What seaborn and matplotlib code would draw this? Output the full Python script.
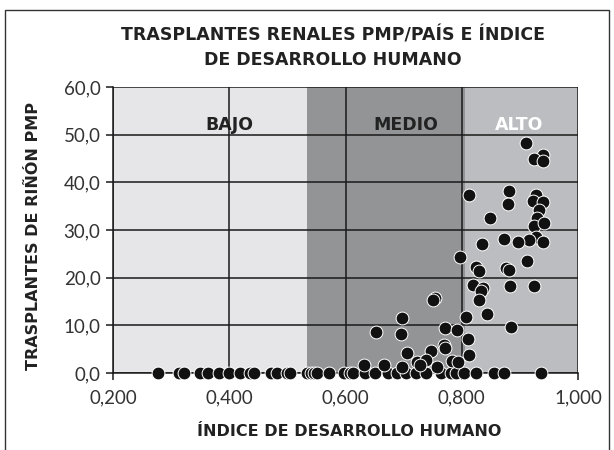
import matplotlib
matplotlib.use("Agg")
import matplotlib.pyplot as plt
import seaborn as sns
import pandas as pd
import numpy as np
from matplotlib.ticker import FuncFormatter
from matplotlib.patches import Rectangle

# countries with 0 kidney transplants pmp (IDH only)
idh_zero = [0.277, 0.313, 0.322, 0.350, 0.363, 0.382, 0.400, 0.419, 0.436, 0.443,
            0.471, 0.482, 0.499, 0.505, 0.534, 0.540, 0.545, 0.551, 0.571, 0.597,
            0.607, 0.613, 0.633, 0.650, 0.673, 0.688, 0.704, 0.721, 0.738, 0.764,
            0.781, 0.790, 0.804, 0.824, 0.856, 0.873, 0.936]

# countries with transplant activity
idh = [0.910, 0.939, 0.925, 0.939,
       0.813, 0.882, 0.879, 0.928, 0.922, 0.939, 0.933,
       0.848, 0.930, 0.925, 0.942,
       0.928, 0.916, 0.939, 0.873, 0.896, 0.834,
       0.797, 0.912,
       0.825, 0.830, 0.876, 0.882,
       0.820, 0.836, 0.833, 0.830, 0.883, 0.924,
       0.754, 0.751,
       0.843, 0.807, 0.698, 0.695, 0.652, 0.884,
       0.772, 0.792, 0.810, 0.769, 0.772, 0.812, 0.705, 0.747,
       0.784, 0.723, 0.738, 0.794, 0.632, 0.666, 0.698, 0.729, 0.758]
pmp = [48.3, 45.8, 44.9, 44.5,
       37.4, 38.1, 35.4, 37.4, 36.0, 35.8, 34.2,
       32.6, 32.5, 30.9, 31.4,
       28.6, 27.8, 27.4, 28.2, 27.5, 27.0,
       24.3, 23.5,
       22.2, 21.3, 22.0, 21.6,
       18.5, 17.8, 17.1, 15.3, 18.3, 18.3,
       15.7, 15.3,
       12.3, 11.7, 11.5, 8.2, 8.7, 9.7,
       9.4, 9.0, 7.1, 5.9, 5.2, 3.8, 4.3, 4.7,
       2.6, 2.4, 2.7, 2.4, 1.7, 1.7, 1.3, 1.7, 1.3]

groups = ['BAJO', 'MEDIO', 'ALTO']
group_limits = [(0.2, 0.534), (0.534, 0.805), (0.805, 1.0)]
group_label_x = [0.400, 0.703, 0.898]
group_colors = ['#e6e6e8', '#939496', '#bcbdc0']
label_colors = ['#222222', '#222222', 'white']

df = pd.DataFrame({'IDH': idh_zero + idh,
                   'PMP': [0.0] * len(idh_zero) + pmp})

sns.set_style('white')
plt.rcParams['font.family'] = ['Lato', 'DejaVu Sans']
bold_font = dict(family='DejaVu Sans', fontweight='bold', color='#222222')

fig = plt.figure(figsize=(6.14, 4.5), dpi=100)
ax = fig.add_axes([113 / 614, 77 / 450, 465 / 614, 286 / 450])

for (lo, hi), c, name, lc, lx in zip(group_limits, group_colors, groups,
                                     label_colors, group_label_x):
    ax.axvspan(lo, hi, color=c, zorder=0, lw=0)
    ax.text(lx, 52.1, name, ha='center', va='center', fontsize=12.5,
            family='DejaVu Sans', fontweight='bold', color=lc, zorder=1)

sns.scatterplot(data=df, x='IDH', y='PMP', color='#111111', s=85,
                edgecolor='white', linewidth=0.7, ax=ax, zorder=5, clip_on=False)

ax.set_xlim(0.2, 1.0)
ax.set_ylim(0, 60)
ax.set_xticks(np.arange(0.2, 1.01, 0.2))
ax.set_yticks(np.arange(0, 61, 10))
ax.xaxis.set_major_formatter(FuncFormatter(lambda v, p: f'{v:.3f}'.replace('.', ',')))
ax.yaxis.set_major_formatter(FuncFormatter(lambda v, p: f'{v:.1f}'.replace('.', ',')))
ax.grid(True, color='#1a1a1a', lw=1.1, zorder=2)
ax.set_axisbelow(False)
for s in ['top', 'right']:
    ax.spines[s].set_visible(False)
for s in ['left', 'bottom']:
    ax.spines[s].set_color('#1a1a1a')
    ax.spines[s].set_linewidth(1.1)
ax.tick_params(axis='both', direction='out', length=5, width=1.1, color='#1a1a1a',
               labelsize=13.5, labelcolor='#333333', pad=4, left=True, bottom=True)
ax.tick_params(axis='x', pad=7)

ax.set_xlabel('ÍNDICE DE DESARROLLO HUMANO', fontsize=11.5, **bold_font)
ax.set_ylabel('TRASPLANTES DE RIÑÓN PMP', fontsize=11.5, **bold_font)
ax.xaxis.set_label_coords(0.507, -0.178)
ax.yaxis.set_label_coords(-0.155, 0.479)

fig.text(333 / 614, 1 - 35 / 450, 'TRASPLANTES RENALES PMP/PAÍS E ÍNDICE',
         ha='center', va='center', fontsize=12.5, **bold_font)
fig.text(333 / 614, 1 - 60 / 450, 'DE DESARROLLO HUMANO',
         ha='center', va='center', fontsize=12.5, **bold_font)

# outer frame
fig.patches.append(Rectangle((5 / 614, -0.1), 604 / 614, 1.1 - 10 / 450,
                             transform=fig.transFigure, fill=False,
                             edgecolor='#333333', lw=1.0))

fig.savefig('out.png', dpi=100, facecolor='white')
plt.close()
